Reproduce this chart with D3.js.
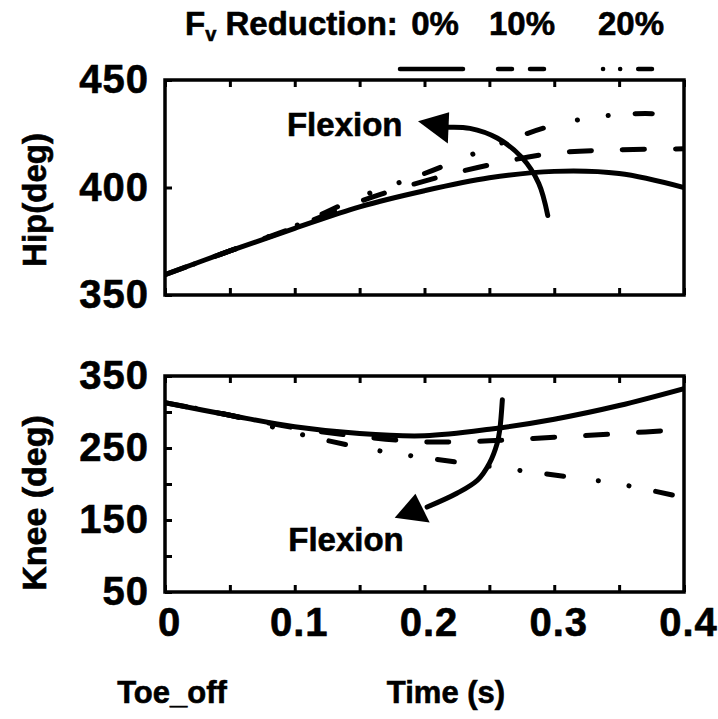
<!DOCTYPE html>
<html><head><meta charset="utf-8">
<script src="https://cdn.jsdelivr.net/npm/d3@7"></script>
<style>
body{margin:0;background:#fff;}
text{font-family:"Liberation Sans",Arial,sans-serif;font-weight:bold;fill:#000;stroke:#000;stroke-width:0.6px;}
</style>
</head><body>
<svg id="c" width="718" height="719"></svg>
<script>
// ---- data ----
const time = [0, 0.05, 0.1, 0.15, 0.2, 0.25, 0.3, 0.35, 0.4];
const seriesNames = ["0%", "10%", "20%"];
const hip0  = [359.5, 370.5, 381, 391, 398.5, 404.5, 407.5, 406.5, 400];
const hip10 = [359.5, 370.5, 381.5, 393.5, 403, 410.5, 416, 417.5, 418];
const hip20 = [359.5, 370.5, 382, 395.5, 406.5, 418.5, 429, 434, 434];
const knee0  = [313, 295.5, 279.5, 270, 267, 276, 290, 309, 332.5];
const knee10 = [313, 295.5, 278, 266, 258.5, 260, 265, 270, 276];
const knee20 = [313, 295.5, 271, 251, 236.5, 224.5, 212.5, 200, 181];
const xTickLabels = [0, 0.1, 0.2, 0.3, 0.4];
const xMinorTicks = [0, 0.05, 0.1, 0.15, 0.2, 0.25, 0.3, 0.35, 0.4];
const hipTicks = [350, 400, 450];
const hipTickLabels = [350, 400, 450];
const kneeTicks = [50, 100, 150, 200, 250, 300, 350];
const kneeTickLabels = [50, 150, 250, 350];
// annotation arrows (data coordinates: time, angle)
const hipArrowPath = [[0.295, 387], [0.288, 402], [0.275, 414], [0.256, 423], [0.235, 427.5], [0.218, 428]];
const hipArrowHead = [[0.195, 430.8], [0.219, 435], [0.218, 420.5]];
const kneeArrowPath = [[0.26, 317], [0.258, 275], [0.256, 256.5], [0.25, 228.7], [0.241, 205.6], [0.225, 187.1], [0.202, 168]];
const kneeArrowHead = [[0.177, 153], [0.193, 186.5], [0.204, 146.5]];
const hipFlexionLabel = [0.094, 424];
const kneeFlexionLabel = [0.095, 107];

// ---- layout ----
const svg = d3.select("#c");
const X0 = 165, X1 = 684;
const x = d3.scaleLinear().domain([0, 0.4]).range([X0, X1]);
const yHip = d3.scaleLinear().domain([350, 450]).range([295, 80]);
const yKnee = d3.scaleLinear().domain([50, 350]).range([592, 376]);

const styles = {
  "0%":  {dash: null, legendDash: null},
  "10%": {dash: "22,31", legendDash: "14,18"},
  "20%": {dash: "0.1,31,0.1,27,17,35", legendDash: "0.1,17,0.1,18,14"}
};

function panel(y, series, ticks, tickLabels, arrowPath, arrowHead, flexLabel) {
  const g = svg.append("g");
  const [yb, yt] = y.range();
  const clipId = "clip" + Math.round(yb);
  svg.append("clipPath").attr("id", clipId).append("rect")
    .attr("x", X0).attr("y", yt).attr("width", X1 - X0).attr("height", yb - yt);
  // lines
  const line = d3.line().x((d, i) => x(time[i])).y(d => y(d)).curve(d3.curveCatmullRom.alpha(0.5));
  series.forEach((vals, k) => {
    const st = styles[seriesNames[k]];
    g.append("path").attr("d", line(vals)).attr("fill", "none").attr("stroke", "#000")
      .attr("stroke-width", 5).attr("stroke-linecap", "round")
      .attr("clip-path", `url(#${clipId})`)
      .attr("stroke-dasharray", st.dash);
  });
  // frame
  g.append("rect").attr("x", X0).attr("y", yt).attr("width", X1 - X0).attr("height", yb - yt)
    .attr("fill", "none").attr("stroke", "#000").attr("stroke-width", 3.5);
  // top and bottom inner ticks
  const ax = g.append("g").attr("transform", `translate(0,${yb})`)
    .call(d3.axisBottom(x).tickValues(xMinorTicks).tickSize(-7).tickFormat(""));
  const axT = g.append("g").attr("transform", `translate(0,${yt})`)
    .call(d3.axisTop(x).tickValues(xMinorTicks).tickSize(-7).tickFormat(""));
  [ax, axT].forEach(a => { a.select(".domain").remove(); a.selectAll("line").attr("stroke-width", 3); });
  // left axis
  const ay = g.append("g").attr("transform", `translate(${X0},0)`)
    .call(d3.axisLeft(y).tickValues(ticks).tickSize(-7).tickPadding(16)
      .tickFormat(d => tickLabels.includes(d) ? String(d) : ""));
  ay.select(".domain").remove();
  ay.selectAll("line").attr("stroke-width", 3);
  ay.selectAll("text").attr("font-size", 40).attr("font-family", null).style("letter-spacing", "1px");
  // arrow
  const aLine = d3.line().x(d => x(d[0])).y(d => y(d[1])).curve(d3.curveCatmullRom.alpha(0.5));
  g.append("path").attr("d", aLine(arrowPath)).attr("fill", "none").attr("stroke", "#000")
    .attr("stroke-width", 5).attr("stroke-linecap", "round");
  g.append("path").attr("d", d3.line().x(d => x(d[0])).y(d => y(d[1]))(arrowHead) + "Z").attr("fill", "#000");
  g.append("text").attr("x", x(flexLabel[0])).attr("y", y(flexLabel[1]))
    .attr("font-size", 33).text("Flexion");
  return ax;
}

panel(yHip, [hip0, hip10, hip20], hipTicks, hipTickLabels, hipArrowPath, hipArrowHead, hipFlexionLabel);
panel(yKnee, [knee0, knee10, knee20], kneeTicks, kneeTickLabels, kneeArrowPath, kneeArrowHead, kneeFlexionLabel);

// x tick labels under knee panel
const xl = svg.append("g").attr("transform", "translate(4,592)")
  .call(d3.axisBottom(x).tickValues(xTickLabels).tickSize(0).tickPadding(16)
    .tickFormat(d => d === 0 ? "0" : d3.format(".1f")(d)));
xl.select(".domain").remove();
xl.selectAll("text").attr("font-size", 40).attr("font-family", null).style("letter-spacing", "1px");

// axis titles
svg.append("text").attr("transform", "translate(46,200) rotate(-90)").attr("text-anchor", "middle")
  .attr("font-size", 33).text("Hip(deg)");
svg.append("text").attr("transform", "translate(46,503) rotate(-90)").attr("text-anchor", "middle")
  .attr("font-size", 34).text("Knee (deg)");
svg.append("text").attr("x", 172).attr("y", 703).attr("text-anchor", "middle")
  .attr("font-size", 31).text("Toe_off");
svg.append("text").attr("x", 446).attr("y", 703).attr("text-anchor", "middle")
  .attr("font-size", 31).text("Time (s)");

// legend
const title = svg.append("text").attr("x", 185).attr("y", 35).attr("font-size", 33);
title.append("tspan").text("F");
title.append("tspan").attr("font-size", 20).attr("dy", 6).text("v");
title.append("tspan").attr("dy", -6).text(" Reduction:");
const legX = [435, 522, 631];
const legLine = [[400, 463], [498, 544], [603, 652]];
seriesNames.forEach((n, k) => {
  svg.append("text").attr("x", legX[k]).attr("y", 35).attr("text-anchor", "middle")
    .attr("font-size", 33).text(n);
  svg.append("line").attr("x1", legLine[k][0]).attr("x2", legLine[k][1]).attr("y1", 69).attr("y2", 69)
    .attr("stroke", "#000").attr("stroke-width", 4.5).attr("stroke-linecap", "round")
    .attr("stroke-dasharray", styles[n].legendDash);
});
</script>
</body></html>
